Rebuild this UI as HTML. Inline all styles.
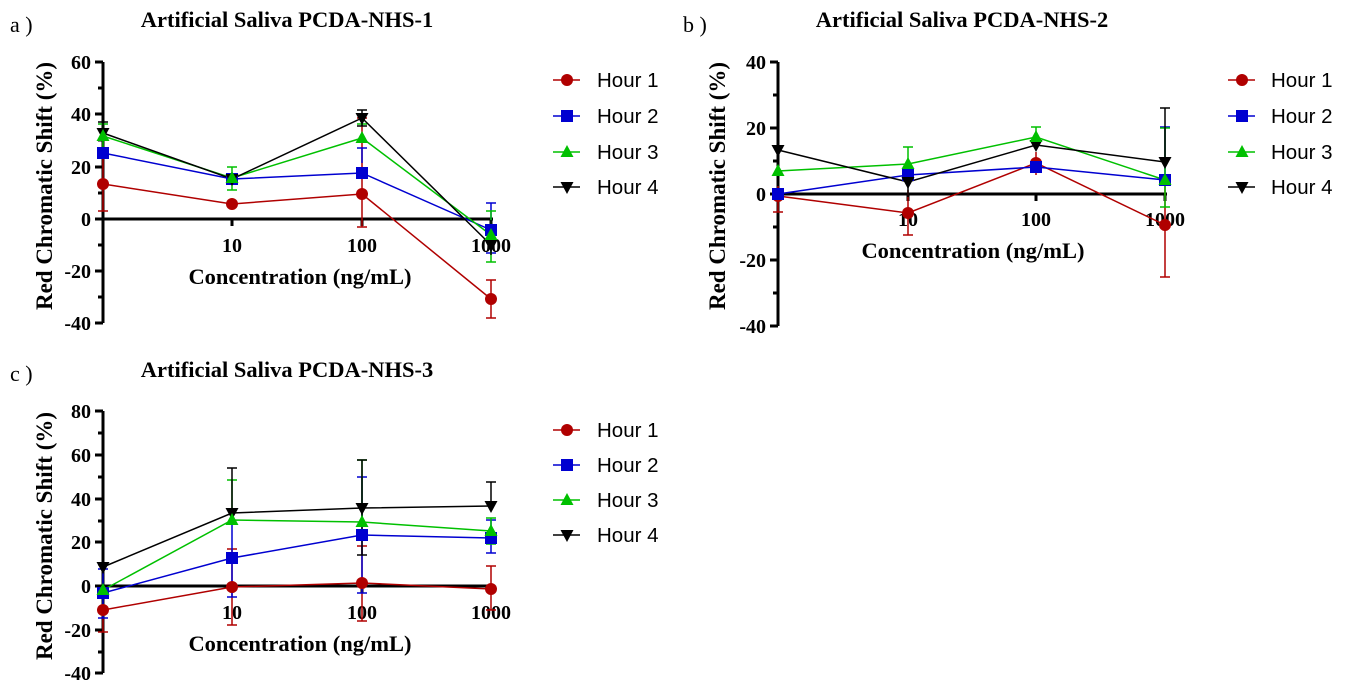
<!DOCTYPE html>
<html><head><meta charset="utf-8"><style>
body{margin:0;background:#fff}
svg{display:block}
text{font-family:"Liberation Serif",serif}
.t{font-weight:bold;font-size:22.5px;text-anchor:middle}
.k{font-weight:bold;font-size:20px}
.al{font-weight:bold;font-size:22.5px;text-anchor:middle}
.yl{font-weight:bold;font-size:23px;text-anchor:middle}
.lg{font-family:"Liberation Sans",sans-serif;font-size:20.5px}
.ax{stroke:#000;stroke-width:3;fill:none}
.r{stroke:#b00000;fill:none;stroke-width:1.5}
.b{stroke:#0000d0;fill:none;stroke-width:1.5}
.g{stroke:#00c000;fill:none;stroke-width:1.5}
.k2{stroke:#000;fill:none;stroke-width:1.5}
</style></head><body>
<svg width="1347" height="691" xmlns="http://www.w3.org/2000/svg">
<defs>
<g id="mr"><circle r="6" fill="#b00000"/></g>
<g id="mb"><rect x="-6" y="-6" width="12" height="12" fill="#0000d0"/></g>
<g id="mg"><polygon points="0,-7 6.5,5 -6.5,5" fill="#00c000"/></g>
<g id="mk"><polygon points="0,7 6.5,-5 -6.5,-5" fill="#000"/></g>
</defs>

<text x="10" y="32" font-size="22">a )</text>
<text x="683" y="32" font-size="22">b )</text>
<text x="10" y="381" font-size="22">c )</text>
<text class="t" x="287" y="27">Artificial Saliva PCDA-NHS-1</text>
<text class="t" x="962" y="27">Artificial Saliva PCDA-NHS-2</text>
<text class="t" x="287" y="377">Artificial Saliva PCDA-NHS-3</text>

<!-- ============ Panel A ============ -->
<g>
<path class="ax" d="M103,62 V323 M95,62 H103 M95,114 H103 M95,167 H103 M95,219 H103 M95,271 H103 M95,323 H103 M98,88 H103 M98,140 H103 M98,193 H103 M98,245 H103 M98,297 H103 M103,219 H493"/>
<path class="ax" d="M232,219 V226 M362,219 V226 M491,219 V226" stroke-width="2"/>
<g class="k" text-anchor="end"><text x="91" y="69">60</text><text x="91" y="121">40</text><text x="91" y="174">20</text><text x="91" y="226">0</text><text x="91" y="278">-20</text><text x="91" y="330">-40</text></g>
<g class="k" text-anchor="middle"><text x="232" y="252">10</text><text x="362" y="252">100</text><text x="491" y="252">1000</text></g>
<text class="al" x="300" y="284">Concentration (ng/mL)</text>
<text class="yl" transform="translate(52,186) rotate(-90)">Red Chromatic Shift (%)</text>
<path class="r" d="M103,211 V155 M98,211 H108 M362,227 V118 M357,227 H367 M357,118 H367 M491,318 V280 M486,318 H496 M486,280 H496"/>
<path class="b" d="M362,163 V148 M357,148 H367 M491,253 V203 M486,253 H496 M486,203 H496"/>
<path class="g" d="M232,190 V167 M227,167 H237 M227,190 H237 M362,124 V126 M357,124 H367 M103,124 V150 M98,124 H108 M491,262 V211 M486,262 H496 M486,211 H496"/>
<path class="k2" d="M103,122 V136 M98,122 H108 M362,110 V126 M357,110 H367 M357,126 H367 M491,220 V255"/>
<polyline class="r" points="103,184 232,204 362,194 491,299"/>
<polyline class="b" points="103,153 232,179 362,173 491,230"/>
<polyline class="g" points="103,136 232,178 362,138 491,235"/>
<polyline class="k2" points="103,133 232,179 362,118 491,245"/>
<use href="#mr" x="103" y="184"/><use href="#mr" x="232" y="204"/><use href="#mr" x="362" y="194"/><use href="#mr" x="491" y="299"/>
<use href="#mb" x="103" y="153"/><use href="#mb" x="232" y="179"/><use href="#mb" x="362" y="173"/><use href="#mb" x="491" y="230"/>
<use href="#mk" x="103" y="133"/><use href="#mk" x="232" y="179"/><use href="#mk" x="362" y="118"/><use href="#mk" x="491" y="245"/>
<use href="#mg" x="103" y="136"/><use href="#mg" x="232" y="178"/><use href="#mg" x="362" y="138"/><use href="#mg" x="491" y="235"/>
<path class="r" d="M553,80 H580"/><use href="#mr" x="567" y="80"/><text class="lg" x="597" y="87">Hour 1</text>
<path class="b" d="M553,116 H580"/><use href="#mb" x="567" y="116"/><text class="lg" x="597" y="123">Hour 2</text>
<path class="g" d="M553,152 H580"/><use href="#mg" x="567" y="152"/><text class="lg" x="597" y="159">Hour 3</text>
<path class="k2" d="M553,187 H580"/><use href="#mk" x="567" y="187"/><text class="lg" x="597" y="194">Hour 4</text>
</g>

<!-- ============ Panel B ============ -->
<g>
<path class="ax" d="M778,62 V326 M770,62 H778 M770,128 H778 M770,194 H778 M770,260 H778 M770,326 H778 M773,95 H778 M773,161 H778 M773,227 H778 M773,293 H778 M778,194 H1167"/>
<path class="ax" d="M908,194 V201 M1036,194 V201 M1165,194 V201" stroke-width="2"/>
<g class="k" text-anchor="end"><text x="766" y="69">40</text><text x="766" y="135">20</text><text x="766" y="201">0</text><text x="766" y="267">-20</text><text x="766" y="333">-40</text></g>
<g class="k" text-anchor="middle"><text x="908" y="226">10</text><text x="1036" y="226">100</text><text x="1165" y="226">1000</text></g>
<text class="al" x="973" y="258">Concentration (ng/mL)</text>
<text class="yl" transform="translate(725,186) rotate(-90)">Red Chromatic Shift (%)</text>
<path class="r" d="M778,212 V186 M773,212 H783 M908,235 V190 M903,235 H913 M1036,152 V175 M1165,277 V176 M1160,277 H1170"/>
<path class="b" d="M1165,180 V127 M1160,127 H1170"/>
<path class="g" d="M908,147 V180 M903,147 H913 M1036,127 V150 M1031,127 H1041 M1165,128 V207 M1160,128 H1170 M1160,207 H1170"/>
<path class="k2" d="M778,140 V160 M908,168 V197 M903,168 H913 M1165,108 V162 M1160,108 H1170"/>
<polyline class="r" points="778,196 908,213 1036,163 1165,225"/>
<polyline class="b" points="778,194 908,175 1036,167 1165,180"/>
<polyline class="g" points="778,171 908,164 1036,137 1165,180"/>
<polyline class="k2" points="778,150 908,182 1036,145 1165,162"/>
<use href="#mr" x="778" y="196"/><use href="#mr" x="908" y="213"/><use href="#mr" x="1036" y="163"/><use href="#mr" x="1165" y="225"/>
<use href="#mb" x="778" y="194"/><use href="#mb" x="908" y="175"/><use href="#mb" x="1036" y="167"/><use href="#mb" x="1165" y="180"/>
<use href="#mk" x="778" y="150"/><use href="#mk" x="908" y="182"/><use href="#mk" x="1036" y="145"/><use href="#mk" x="1165" y="162"/>
<use href="#mg" x="778" y="171"/><use href="#mg" x="908" y="164"/><use href="#mg" x="1036" y="137"/><use href="#mg" x="1165" y="180"/>
<path class="r" d="M1228,80 H1255"/><use href="#mr" x="1242" y="80"/><text class="lg" x="1271" y="87">Hour 1</text>
<path class="b" d="M1228,116 H1255"/><use href="#mb" x="1242" y="116"/><text class="lg" x="1271" y="123">Hour 2</text>
<path class="g" d="M1228,152 H1255"/><use href="#mg" x="1242" y="152"/><text class="lg" x="1271" y="159">Hour 3</text>
<path class="k2" d="M1228,187 H1255"/><use href="#mk" x="1242" y="187"/><text class="lg" x="1271" y="194">Hour 4</text>
</g>

<!-- ============ Panel C ============ -->
<g>
<path class="ax" d="M103,411 V673 M95,411 H103 M95,455 H103 M95,499 H103 M95,542 H103 M95,586 H103 M95,630 H103 M95,673 H103 M98,433 H103 M98,477 H103 M98,521 H103 M98,564 H103 M98,608 H103 M98,652 H103 M103,586 H493"/>
<path class="ax" d="M232,586 V593 M362,586 V593 M491,586 V593" stroke-width="2"/>
<g class="k" text-anchor="end"><text x="91" y="418">80</text><text x="91" y="462">60</text><text x="91" y="506">40</text><text x="91" y="549">20</text><text x="91" y="593">0</text><text x="91" y="637">-20</text><text x="91" y="680">-40</text></g>
<g class="k" text-anchor="middle"><text x="232" y="619">10</text><text x="362" y="619">100</text><text x="491" y="619">1000</text></g>
<text class="al" x="300" y="651">Concentration (ng/mL)</text>
<text class="yl" transform="translate(52,536) rotate(-90)">Red Chromatic Shift (%)</text>
<path class="r" d="M103,632 V610 M98,632 H108 M232,625 V549 M227,625 H237 M227,549 H237 M362,621 V546 M357,621 H367 M357,546 H367 M491,566 V610 M486,566 H496 M486,610 H496"/>
<path class="b" d="M103,618 V569 M98,618 H108 M98,569 H108 M232,597 V518 M227,597 H237 M362,593 V477 M357,593 H367 M357,477 H367 M491,553 V520 M486,553 H496 M486,520 H496"/>
<path class="g" d="M232,480 V520 M227,480 H237 M362,460 V522 M357,460 H367 M491,518 V544 M486,518 H496 M486,544 H496"/>
<path class="k2" d="M232,468 V513 M227,468 H237 M362,460 V555 M357,460 H367 M357,555 H367 M491,482 V506 M486,482 H496"/>
<polyline class="r" points="103,610 232,587 362,583 491,589"/>
<polyline class="b" points="103,593 232,558 362,535 491,538"/>
<polyline class="g" points="103,590 232,520 362,522 491,531"/>
<polyline class="k2" points="103,567 232,513 362,508 491,506"/>
<use href="#mr" x="103" y="610"/><use href="#mr" x="232" y="587"/><use href="#mr" x="362" y="583"/><use href="#mr" x="491" y="589"/>
<use href="#mb" x="103" y="593"/><use href="#mb" x="232" y="558"/><use href="#mb" x="362" y="535"/><use href="#mb" x="491" y="538"/>
<use href="#mk" x="103" y="567"/><use href="#mk" x="232" y="513"/><use href="#mk" x="362" y="508"/><use href="#mk" x="491" y="506"/>
<use href="#mg" x="103" y="590"/><use href="#mg" x="232" y="520"/><use href="#mg" x="362" y="522"/><use href="#mg" x="491" y="531"/>
<path class="r" d="M553,430 H580"/><use href="#mr" x="567" y="430"/><text class="lg" x="597" y="437">Hour 1</text>
<path class="b" d="M553,465 H580"/><use href="#mb" x="567" y="465"/><text class="lg" x="597" y="472">Hour 2</text>
<path class="g" d="M553,500 H580"/><use href="#mg" x="567" y="500"/><text class="lg" x="597" y="507">Hour 3</text>
<path class="k2" d="M553,535 H580"/><use href="#mk" x="567" y="535"/><text class="lg" x="597" y="542">Hour 4</text>
</g>
</svg>
</body></html>
